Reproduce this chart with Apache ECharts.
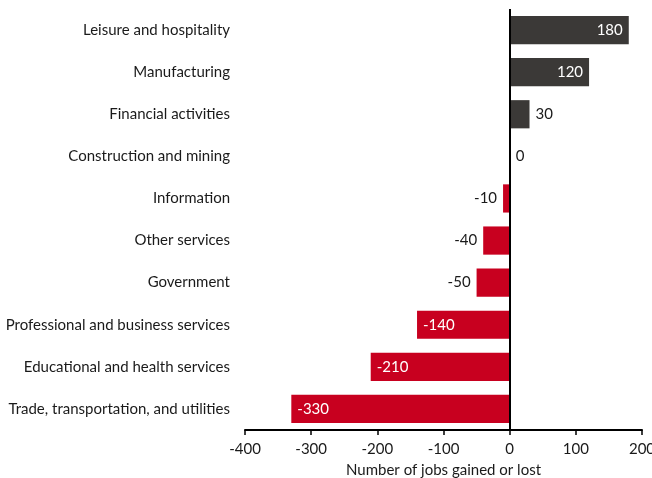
<!DOCTYPE html>
<html>
<head>
<meta charset="utf-8">
<script src="https://cdn.jsdelivr.net/npm/echarts@6/dist/echarts.min.js"></script>
<style>
  html, body { margin: 0; padding: 0; background: #fff; }
  #chart { width: 652px; height: 478px; }
</style>
</head>
<body>
<div id="chart"></div>
<script>
// Job gains and losses by industry (thousands), listed top to bottom
const categories = [
  'Leisure and hospitality',
  'Manufacturing',
  'Financial activities',
  'Construction and mining',
  'Information',
  'Other services',
  'Government',
  'Professional and business services',
  'Educational and health services',
  'Trade, transportation, and utilities'
];
const jobChange = [180, 120, 30, 0, -10, -40, -50, -140, -210, -330];
const xTicks = [-400, -300, -200, -100, 0, 100, 200];

const FONT = 'Lato';
const FONT_SIZE = 15;
const GAIN = '#3b3937';
const LOSS = '#c8001f';

const barData = jobChange.map(v => {
  const big = Math.abs(v) >= 100;
  let position;
  if (v >= 0) position = big ? 'insideRight' : 'right';
  else position = big ? 'insideLeft' : 'left';
  return {
    value: v,
    itemStyle: { color: v >= 0 ? GAIN : LOSS },
    label: {
      show: true,
      position: position,
      distance: 6,
      color: big ? '#ffffff' : '#1a1a1a',
      fontFamily: FONT,
      fontSize: FONT_SIZE
    }
  };
});

const chart = echarts.init(document.getElementById('chart'));
chart.setOption({
  animation: false,
  grid: {
    left: 245, right: 10, top: 9, bottom: 48,
    containLabel: false,
    outerBoundsMode: 'none'
  },
  xAxis: {
    type: 'value',
    min: xTicks[0],
    max: xTicks[xTicks.length - 1],
    interval: 100,
    name: 'Number of jobs gained or lost',
    nameLocation: 'middle',
    nameGap: 33,
    nameTextStyle: { fontFamily: FONT, fontSize: FONT_SIZE, color: '#1a1a1a' },
    axisLine: { show: true, onZero: false, lineStyle: { color: '#000', width: 2 } },
    axisTick: { show: true, length: 5, lineStyle: { color: '#000', width: 1.5 } },
    axisLabel: { fontFamily: FONT, fontSize: FONT_SIZE, color: '#1a1a1a', margin: 12 },
    splitLine: { show: false }
  },
  yAxis: {
    type: 'category',
    inverse: true,
    data: categories,
    axisLine: { show: false },
    axisTick: { show: false },
    axisLabel: { fontFamily: FONT, fontSize: FONT_SIZE, color: '#1a1a1a', margin: 15 }
  },
  series: [{
    type: 'bar',
    data: barData,
    barCategoryGap: '33%',
    markLine: {
      silent: true,
      symbol: 'none',
      label: { show: false },
      lineStyle: { color: '#000', width: 2, type: 'solid' },
      data: [{ xAxis: 0 }]
    }
  }]
});
</script>
</body>
</html>
